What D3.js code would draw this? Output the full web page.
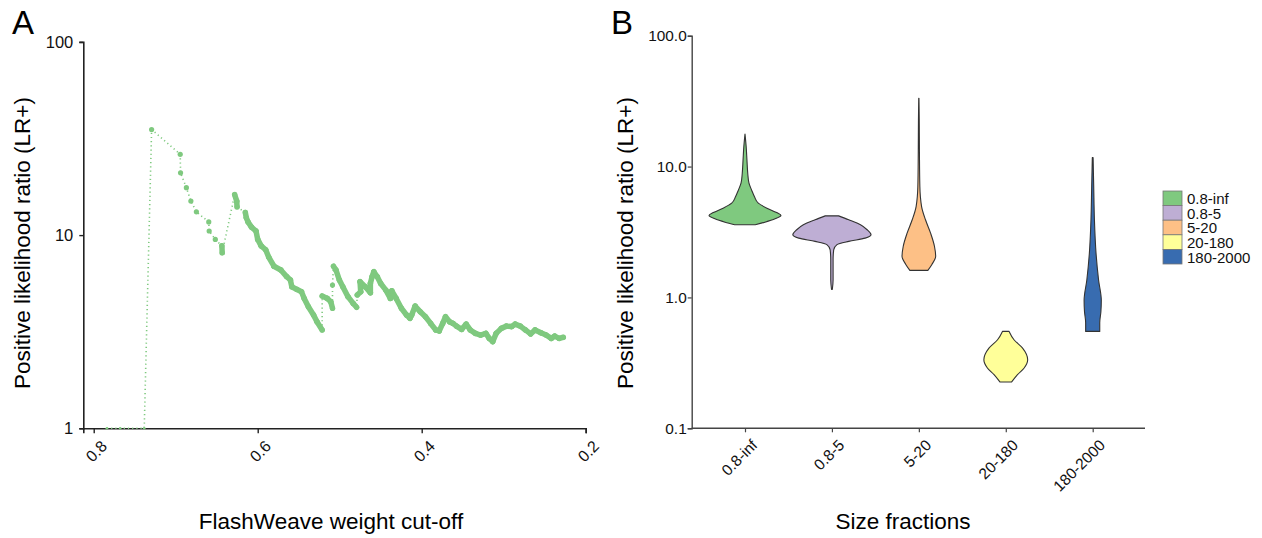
<!DOCTYPE html>
<html lang="en">
<head>
  <meta charset="UTF-8">
  <title>LR+ by FlashWeave cut-off and size fraction</title>
  <script src="https://d3js.org/d3.v7.min.js"></script>
  <style>
    body { margin: 0; background: #fff; }
  </style>
</head>
<body>
  <div id="chart"></div>

  <script>
    // ------------------------ Data ------------------------

    // Panel A: LR+ at each FlashWeave weight cut-off
    const cutoffs = [
      0.7839, 0.7677, 0.7384, 0.7294, 0.6945, 0.6941, 0.6870, 0.6815, 0.6748, 0.6597,
      0.6592, 0.6517, 0.6437, 0.6433, 0.6281, 0.6256, 0.6252, 0.6151, 0.6139, 0.6118,
      0.6076, 0.6021, 0.6000, 0.5958, 0.5903, 0.5866, 0.5802, 0.5718, 0.5647, 0.5601,
      0.5584, 0.5525, 0.5466, 0.5433, 0.5382, 0.5319, 0.5277, 0.5214, 0.5214, 0.5151,
      0.5109, 0.5088, 0.5088, 0.5076, 0.5046, 0.5004, 0.4962, 0.4899, 0.4836, 0.4794,
      0.4786, 0.4744, 0.4752, 0.4689, 0.4626, 0.4626, 0.4605, 0.4584, 0.4542, 0.4500,
      0.4437, 0.4382, 0.4365, 0.4311, 0.4248, 0.4185, 0.4143, 0.4122, 0.4080, 0.4017,
      0.3954, 0.3891, 0.3828, 0.3786, 0.3744, 0.3710, 0.3660, 0.3618, 0.3576, 0.3513,
      0.3458, 0.3408, 0.3345, 0.3282, 0.3218, 0.3176, 0.3134, 0.3092, 0.3029, 0.2966,
      0.2903, 0.2861, 0.2798, 0.2735, 0.2672, 0.2618, 0.2546, 0.2483, 0.2420, 0.2378,
      0.2324, 0.2273
    ];
    const lrValues = [
      1.0, 1.0, 1.0, 35.2, 26.2, 21.0, 17.6, 15.0, 13.2, 11.7,
      10.5, 9.5, 8.8, 8.1, 16.2, 15.0, 14.0, 13.1, 12.3, 11.7,
      11.0, 10.5, 9.5, 8.8, 8.4, 7.7, 6.9, 6.6, 6.1, 5.85,
      5.4, 5.24, 5.09, 4.70, 4.26, 3.86, 3.56, 3.23, 4.84, 4.70,
      4.52, 4.18, 5.51, 6.9, 6.6, 5.85, 5.4, 4.80, 4.43, 4.23,
      4.90, 5.09, 5.74, 5.4, 5.03, 5.62, 6.09, 6.46, 6.09, 5.62,
      5.19, 4.70, 5.15, 4.70, 4.18, 3.86, 3.71, 3.86, 4.29, 4.01,
      3.78, 3.49, 3.23, 3.19, 3.49, 3.78, 3.56, 3.49, 3.38, 3.25,
      3.46, 3.23, 3.10, 3.04, 3.10, 2.92, 2.81, 3.10, 3.29, 3.38,
      3.36, 3.46, 3.38, 3.23, 3.08, 3.23, 3.12, 3.04, 2.92, 3.00,
      2.92, 2.96
    ];
    const cutoffTicks = [0.8, 0.6, 0.4, 0.2];
    const lrTicksA = [1, 10, 100];

    // Panel B: violin outlines per size fraction (LR+ value, relative density)
    const fractions = ["0.8-inf", "0.8-5", "5-20", "20-180", "180-2000"];
    const fractionColors = ["#7fc97f", "#beaed4", "#fdc086", "#ffff99", "#386cb0"];

    const lr_08inf = [17.7, 14.2, 11.2, 8.9, 7.5, 6.6, 5.9, 5.25, 4.81, 4.45, 4.23, 3.99, 3.76, 3.59];
    const dens_08inf = [0.0, 0.03, 0.05, 0.07, 0.10, 0.17, 0.24, 0.34, 0.56, 0.81, 0.92, 0.77, 0.51, 0.26];

    const lr_085 = [4.20, 3.92, 3.59, 3.29, 3.01, 2.84, 2.68, 2.53, 2.31, 1.94, 1.36, 1.15];
    const dens_085 = [0.17, 0.43, 0.73, 0.90, 1.0, 0.85, 0.43, 0.13, 0.045, 0.03, 0.03, 0.01];

    const lr_520 = [33.3, 22.7, 12.7, 7.0, 4.95, 3.92, 3.10, 2.45, 2.06, 1.78, 1.61];
    const dens_520 = [0.003, 0.01, 0.015, 0.026, 0.07, 0.17, 0.30, 0.40, 0.43, 0.33, 0.23];

    const lr_20180 = [0.55, 0.475, 0.41, 0.334, 0.289, 0.257, 0.226];
    const dens_20180 = [0.085, 0.21, 0.43, 0.56, 0.47, 0.30, 0.15];

    const lr_1802000 = [11.7, 7.0, 3.92, 2.18, 1.36, 0.95, 0.78, 0.64, 0.55];
    const dens_1802000 = [0.01, 0.026, 0.044, 0.085, 0.15, 0.22, 0.21, 0.18, 0.18];

    const lrTicksB = [0.1, 1, 10, 100];

    // ------------------------ Setup ------------------------

    const W = 1262, H = 538;
    const FONT = "'Liberation Sans', Arial, Helvetica, sans-serif";
    const TITLE_SIZE = "22.5px";

    const svg = d3.select("#chart").append("svg")
      .attr("width", W)
      .attr("height", H)
      .style("font-family", FONT);

    const green = fractionColors[0];

    function styleAxis(g, color, width, size) {
      g.attr("font-family", null).attr("font-size", null);
      g.select(".domain").attr("stroke", color).attr("stroke-width", width);
      g.selectAll(".tick line").attr("stroke", color).attr("stroke-width", width - 0.2);
      g.selectAll(".tick text")
        .style("font-family", FONT)
        .style("font-size", size + "px")
        .attr("fill", "#111");
    }

    function rotateLabels(g, dx, dy) {
      g.selectAll(".tick text")
        .attr("text-anchor", "end")
        .attr("dy", null).attr("y", null)
        .attr("transform", `translate(${dx},${dy}) rotate(-45)`)
        .attr("dominant-baseline", "hanging");
    }

    // ------------------------ Panel A ------------------------

    const xA = d3.scaleLinear().domain([0.8127, 0.2]).range([83.3, 585.7]);
    const yA = d3.scaleLog().domain([1, 100]).range([428.3, 41.9]);

    const gA = svg.append("g");

    gA.append("g")
      .attr("transform", `translate(0,${yA(1)})`)
      .call(d3.axisBottom(xA).tickValues(cutoffTicks).tickFormat(d3.format(".1f")).tickSizeOuter(0).tickSize(5))
      .call(g => styleAxis(g, "#222", 1.6, 16))
      .call(g => rotateLabels(g, 6, 11));

    gA.append("g")
      .attr("transform", `translate(${xA.range()[0]},0)`)
      .call(d3.axisLeft(yA).tickValues(lrTicksA).tickFormat(d3.format("d")).tickSizeOuter(0).tickSize(4))
      .call(g => styleAxis(g, "#222", 1.6, 16.5))
      .call(g => g.selectAll(".tick text").attr("x", -10));

    const pts = cutoffs.map((c, i) => ({ c, x: xA(c), y: yA(lrValues[i]) }));

    // dotted connector through every point
    gA.append("path")
      .datum(pts)
      .attr("d", d3.line().x(d => d.x).y(d => d.y))
      .attr("fill", "none")
      .attr("stroke", green)
      .attr("stroke-width", 1.6)
      .attr("stroke-dasharray", "1.2,3");

    // past ~0.6 the points crowd together and read as one thick band
    const segs = [];
    for (let i = 1; i < pts.length; i++) {
      const a = pts[i - 1], b = pts[i];
      const gap = Math.hypot(b.x - a.x, b.y - a.y);
      if (gap < 7 || (a.c < 0.605 && gap < 11.5)) segs.push([a, b]);
    }
    gA.append("g").selectAll("line")
      .data(segs)
      .join("line")
      .attr("x1", d => d[0].x).attr("y1", d => d[0].y)
      .attr("x2", d => d[1].x).attr("y2", d => d[1].y)
      .attr("stroke", green)
      .attr("stroke-width", 5.5)
      .attr("stroke-linecap", "round");

    gA.append("g").selectAll("circle")
      .data(pts)
      .join("circle")
      .attr("cx", d => d.x)
      .attr("cy", d => d.y)
      .attr("r", (d, i) => lrValues[i] === 1 ? 1.3 : 2.6)
      .attr("fill", green);

    gA.append("text")
      .attr("x", 331).attr("y", 529)
      .attr("text-anchor", "middle")
      .style("font-size", TITLE_SIZE)
      .text("FlashWeave weight cut-off");

    gA.append("text")
      .attr("transform", "translate(29.5,243) rotate(-90)")
      .attr("text-anchor", "middle")
      .style("font-size", TITLE_SIZE)
      .text("Positive likelihood ratio (LR+)");

    svg.append("text")
      .attr("x", 12).attr("y", 34)
      .style("font-size", "33px")
      .text("A");

    // ------------------------ Panel B ------------------------

    const xB = d3.scalePoint().domain(fractions).range([745, 1092.7]);
    const step = xB.step();
    const yB = d3.scaleLog().domain([0.1, 100]).range([428.3, 35.7]);
    const wB = d3.scaleLinear().domain([0, 1]).range([0, 0.45 * step]);

    const gB = svg.append("g");

    gB.append("g")
      .attr("transform", `translate(0,${yB(0.1)})`)
      .call(d3.axisBottom(xB).tickSizeOuter(0).tickSize(4))
      .call(g => styleAxis(g, "#444", 1.4, 15.5))
      .call(g => g.select(".domain").attr("d", "M691.7,0H1145"))
      .call(g => rotateLabels(g, 5, 10));

    gB.append("g")
      .attr("transform", "translate(691.7,0)")
      .call(d3.axisLeft(yB).tickValues(lrTicksB).tickFormat(d3.format(".1f")).tickSizeOuter(0).tickSize(4))
      .call(g => styleAxis(g, "#444", 1.4, 15.4))
      .call(g => g.selectAll(".tick text").attr("x", -5));

    const violins = [
      { name: fractions[0], lr: lr_08inf, dens: dens_08inf },
      { name: fractions[1], lr: lr_085, dens: dens_085 },
      { name: fractions[2], lr: lr_520, dens: dens_520 },
      { name: fractions[3], lr: lr_20180, dens: dens_20180 },
      { name: fractions[4], lr: lr_1802000, dens: dens_1802000 }
    ];

    gB.append("g").selectAll("path")
      .data(violins)
      .join("path")
      .attr("d", v => {
        const cx = xB(v.name);
        const rows = v.lr.map((l, i) => ({ l, d: v.dens[i] }));
        return d3.area()
          .y(d => yB(d.l))
          .x0(d => cx - wB(d.d))
          .x1(d => cx + wB(d.d))
          .curve(d3.curveMonotoneY)(rows);
      })
      .attr("fill", (v, i) => fractionColors[i])
      .attr("stroke", "#333")
      .attr("stroke-width", 1.1)
      .attr("stroke-linejoin", "round");

    gB.append("text")
      .attr("x", 903).attr("y", 529)
      .attr("text-anchor", "middle")
      .style("font-size", TITLE_SIZE)
      .text("Size fractions");

    gB.append("text")
      .attr("transform", "translate(633,243) rotate(-90)")
      .attr("text-anchor", "middle")
      .style("font-size", TITLE_SIZE)
      .text("Positive likelihood ratio (LR+)");

    svg.append("text")
      .attr("x", 611).attr("y", 34)
      .style("font-size", "33px")
      .text("B");

    // ------------------------ Legend ------------------------

    const legend = svg.append("g")
      .attr("transform", "translate(1163,191)");

    const row = legend.selectAll("g")
      .data(fractions)
      .join("g")
      .attr("transform", (d, i) => `translate(0,${i * 14.6})`);

    row.append("rect")
      .attr("width", 19).attr("height", 14.6)
      .attr("fill", (d, i) => fractionColors[i])
      .attr("stroke", "#777")
      .attr("stroke-width", 0.8);

    row.append("text")
      .attr("x", 24).attr("y", 7.6)
      .attr("dominant-baseline", "central")
      .style("font-size", "15px")
      .attr("fill", "#111")
      .text(d => d);
  </script>
</body>
</html>
